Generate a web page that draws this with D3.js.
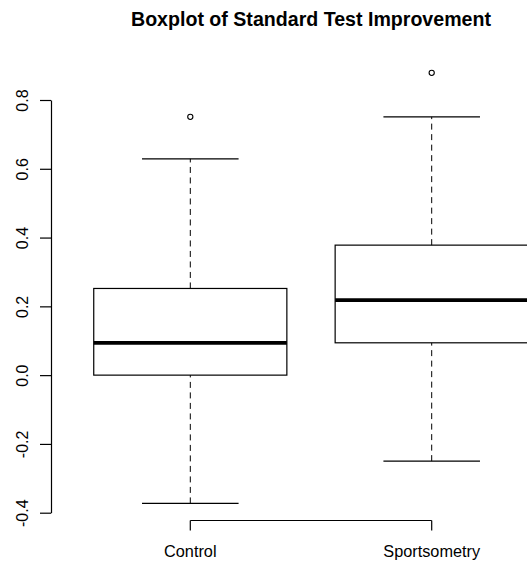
<!DOCTYPE html>
<html>
<head>
<meta charset="utf-8">
<script src="https://cdn.jsdelivr.net/npm/d3@7"></script>
<style>
  html, body { margin: 0; padding: 0; background: #fff; }
  svg { display: block; font-family: "Liberation Sans", Arial, sans-serif; }
</style>
</head>
<body>
<script>
// ---- data ----
const categories   = ["Control", "Sportsometry"];
const whiskerLow   = [-0.373, -0.250];
const quartile1    = [0.000, 0.094];
const medians      = [0.094, 0.218];
const quartile3    = [0.252, 0.378];
const whiskerHigh  = [0.629, 0.751];
const outliersCtrl = [0.751];
const outliersSport = [0.879];
const outliers     = [outliersCtrl, outliersSport];
const yTickValues  = [-0.4, -0.2, 0.0, 0.2, 0.4, 0.6, 0.8];
const titleText    = "Boxplot of Standard Test Improvement";

// ---- layout ----
const W = 527, H = 562;
const plotLeft = 69.6, plotRight = 552.4;
const yTop = 100, yBottom = 512.7;      // pixel positions of 0.8 and -0.4
const axisY = 520.5;                    // bottom of plot region (x axis line)
const yAxisX = 51;

const svg = d3.select("body").append("svg")
  .attr("width", W).attr("height", H);

const x = d3.scaleBand().domain(categories).range([plotLeft, plotRight]).padding(0);
const y = d3.scaleLinear().domain([-0.4, 0.8]).range([yBottom, yTop]);

const boxW = x.bandwidth() * 0.8;
const capW = boxW / 2;
const cx = c => x(c) + x.bandwidth() / 2;

// title
svg.append("text")
  .attr("x", (plotLeft + plotRight) / 2)
  .attr("y", 26)
  .attr("text-anchor", "middle")
  .style("font-weight", "bold")
  .style("font-size", "19.6px")
  .attr("fill", "#000")
  .text(titleText);

// boxes
const g = svg.append("g");
categories.forEach((c, i) => {
  const xc = cx(c);
  // whiskers (dashed)
  g.append("line")
    .attr("x1", xc).attr("x2", xc)
    .attr("y1", y(whiskerLow[i])).attr("y2", y(quartile1[i]))
    .attr("stroke", "#000").attr("stroke-width", 1)
    .attr("stroke-dasharray", "6,4.5");
  g.append("line")
    .attr("x1", xc).attr("x2", xc)
    .attr("y1", y(quartile3[i])).attr("y2", y(whiskerHigh[i]))
    .attr("stroke", "#000").attr("stroke-width", 1)
    .attr("stroke-dasharray", "6,4.5");
  // caps
  [whiskerLow[i], whiskerHigh[i]].forEach(v => {
    g.append("line")
      .attr("x1", xc - capW / 2).attr("x2", xc + capW / 2)
      .attr("y1", y(v)).attr("y2", y(v))
      .attr("stroke", "#000").attr("stroke-width", 1.2);
  });
  // box
  g.append("rect")
    .attr("x", xc - boxW / 2)
    .attr("y", y(quartile3[i]))
    .attr("width", boxW)
    .attr("height", y(quartile1[i]) - y(quartile3[i]))
    .attr("fill", "none")
    .attr("stroke", "#000").attr("stroke-width", 1.2);
  // median
  g.append("line")
    .attr("x1", xc - boxW / 2).attr("x2", xc + boxW / 2)
    .attr("y1", y(medians[i])).attr("y2", y(medians[i]))
    .attr("stroke", "#000").attr("stroke-width", 3.8);
  // outliers
  outliers[i].forEach(v => {
    g.append("circle")
      .attr("cx", xc).attr("cy", y(v)).attr("r", 2.6)
      .attr("fill", "none").attr("stroke", "#000").attr("stroke-width", 1.1);
  });
});

// y axis
const fmt = d3.format(".1f");
const yAxis = d3.axisLeft(y)
  .tickValues(yTickValues)
  .tickFormat(d => fmt(d).replace("\u2212", "-"))
  .tickSize(11)
  .tickSizeOuter(0);
const ya = svg.append("g")
  .attr("transform", `translate(${yAxisX},0)`)
  .call(yAxis);
ya.select(".domain").attr("stroke", "#000").attr("stroke-width", 1.2);
ya.selectAll(".tick line").attr("stroke", "#000").attr("stroke-width", 1.2);
ya.selectAll(".tick text")
  .attr("x", 0).attr("y", 0).attr("dy", 0)
  .attr("text-anchor", "middle")
  .attr("transform", `translate(${28 - yAxisX},0) rotate(-90)`)
  .attr("fill", "#000")
  .style("font-size", "16px")
  .style("font-family", "'Liberation Sans', Arial, sans-serif");

// x axis: line between first and last category, ticks down
const xa = svg.append("g");
const xs = categories.map(cx);
xa.append("line")
  .attr("x1", d3.min(xs)).attr("x2", d3.max(xs))
  .attr("y1", axisY).attr("y2", axisY)
  .attr("stroke", "#000").attr("stroke-width", 1.2);
categories.forEach(c => {
  xa.append("line")
    .attr("x1", cx(c)).attr("x2", cx(c))
    .attr("y1", axisY).attr("y2", axisY + 10)
    .attr("stroke", "#000").attr("stroke-width", 1.2);
  xa.append("text")
    .attr("x", cx(c)).attr("y", 556.5)
    .attr("text-anchor", "middle")
    .attr("fill", "#000")
    .style("font-size", "16.3px")
    .text(c);
});
</script>
</body>
</html>
